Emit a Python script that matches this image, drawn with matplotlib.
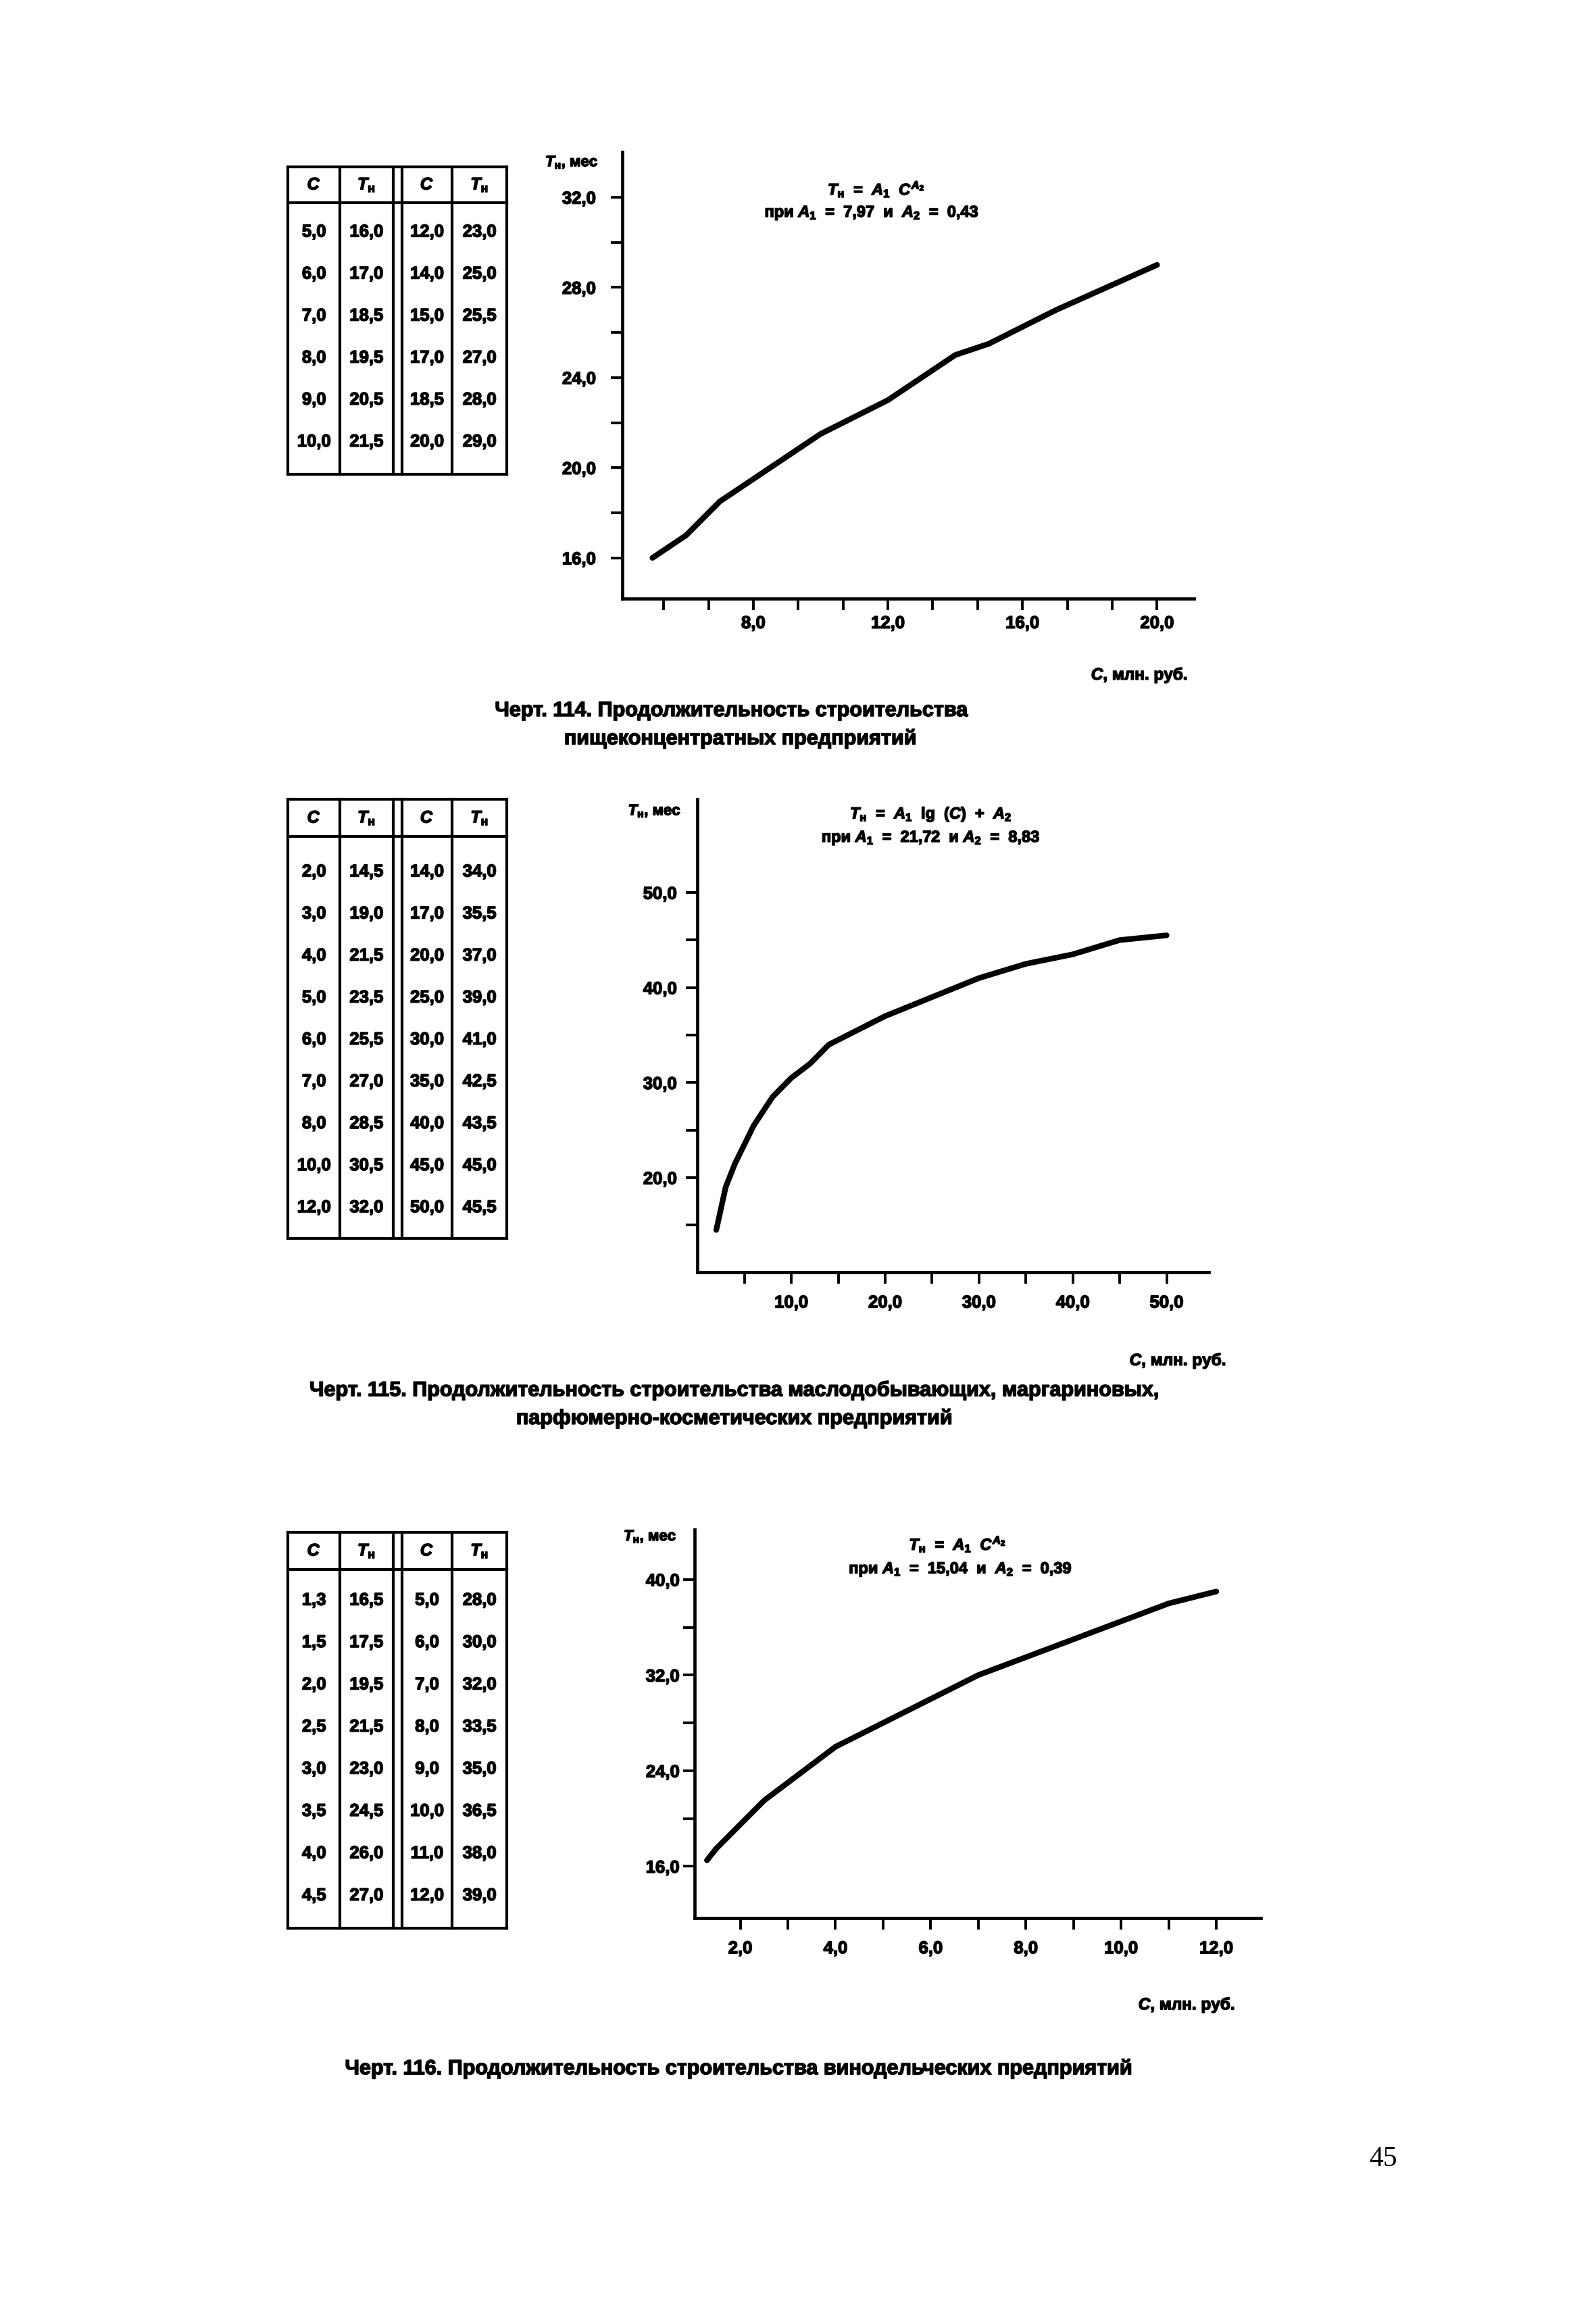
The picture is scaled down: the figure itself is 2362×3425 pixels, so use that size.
import matplotlib
matplotlib.use('Agg')
import matplotlib.pyplot as plt
import matplotlib.patheffects as pe
from matplotlib.ticker import FixedLocator, FuncFormatter
import numpy as np

plt.rcParams['font.family'] = ['Liberation Sans', 'DejaVu Sans']
plt.rcParams['font.weight'] = 'bold'
plt.rcParams['mathtext.fontset'] = 'custom'
plt.rcParams['mathtext.rm'] = 'Liberation Sans:bold'
plt.rcParams['mathtext.it'] = 'Liberation Sans:italic:bold'
plt.rcParams['mathtext.bf'] = 'Liberation Sans:bold'

# chart 114 table
c114_left = [5.0, 6.0, 7.0, 8.0, 9.0, 10.0]
t114_left = [16.0, 17.0, 18.5, 19.5, 20.5, 21.5]
c114_right = [12.0, 14.0, 15.0, 17.0, 18.5, 20.0]
t114_right = [23.0, 25.0, 25.5, 27.0, 28.0, 29.0]

# chart 115 table
c115_left = [2.0, 3.0, 4.0, 5.0, 6.0, 7.0, 8.0, 10.0, 12.0]
t115_left = [14.5, 19.0, 21.5, 23.5, 25.5, 27.0, 28.5, 30.5, 32.0]
c115_right = [14.0, 17.0, 20.0, 25.0, 30.0, 35.0, 40.0, 45.0, 50.0]
t115_right = [34.0, 35.5, 37.0, 39.0, 41.0, 42.5, 43.5, 45.0, 45.5]

# chart 116 table
c116_left = [1.3, 1.5, 2.0, 2.5, 3.0, 3.5, 4.0, 4.5]
t116_left = [16.5, 17.5, 19.5, 21.5, 23.0, 24.5, 26.0, 27.0]
c116_right = [5.0, 6.0, 7.0, 8.0, 9.0, 10.0, 11.0, 12.0]
t116_right = [28.0, 30.0, 32.0, 33.5, 35.0, 36.5, 38.0, 39.0]

ylabel = r'$T_{\mathrm{н}}$, мес'
xlabel = r'$C$, млн. руб.'
formula114 = [r'$T_{\mathrm{н}}$  =  $A_1$  $C^{A_2}$',
              r'при $A_1$  =  7,97  и  $A_2$  =  0,43']
formula115 = [r'$T_{\mathrm{н}}$  =  $A_1$  lg  $(C)$  +  $A_2$',
              r'при $A_1$  =  21,72  и $A_2$  =  8,83']
formula116 = [r'$T_{\mathrm{н}}$  =  $A_1$  $C^{A_2}$',
              r'при $A_1$  =  15,04  и  $A_2$  =  0,39']
caption114 = ['Черт. 114. Продолжительность строительства',
              'пищеконцентратных предприятий']
caption115 = ['Черт. 115. Продолжительность строительства маслодобывающих, маргариновых,',
              'парфюмерно-косметических предприятий']
caption116 = ['Черт. 116. Продолжительность строительства винодельческих предприятий']
page_no = '45'

W, H = 1080.0, 1566.0
heavy = [pe.withStroke(linewidth=1.1, foreground='k')]

fig = plt.figure(figsize=(23.62, 34.25), dpi=100)
page = fig.add_axes([0, 0, 1, 1])
page.set_xlim(0, W)
page.set_ylim(H, 0)
page.axis('off')


def fmt(v):
    return f'{v:.1f}'.replace('.', ',')


def put(x, y, s, size, **kw):
    return page.text(x, y, s, ha='center', va='center', fontsize=size,
                     path_effects=heavy, **kw)


def draw_table(top, hdr, bottom, row0, step, lc, lt, rc, rt):
    xs = [195, 230, 266, 272, 306, 343]
    lw = 3.0
    for y in (top, hdr, bottom):
        page.plot([xs[0], xs[-1]], [y, y], color='k', lw=lw, solid_capstyle='projecting')
    for x in xs:
        page.plot([x, x], [top, bottom], color='k', lw=lw, solid_capstyle='projecting')
    cx = [212.5, 248, 289, 324.5]
    hy = (top + hdr) / 2
    for x, h in zip(cx, [r'$C$', r'$T_{\mathrm{н}}$', r'$C$', r'$T_{\mathrm{н}}$']):
        put(x, hy, h, 18)
    for i in range(len(lc)):
        y = row0 + i * step
        put(cx[0], y, fmt(lc[i]), 18.5)
        put(cx[1], y, fmt(lt[i]), 18.5)
    for i in range(len(rc)):
        y = row0 + i * step
        put(cx[2], y, fmt(rc[i]), 18.5)
        put(cx[3], y, fmt(rt[i]), 18.5)


def make_chart(box, xlim, ylim, xmaj, xmin, ymaj, ymin, xs, ys, xpad, ypad):
    l, r, t, b = box
    ax = fig.add_axes([l / W, 1 - b / H, (r - l) / W, (b - t) / H])
    ax.patch.set_visible(False)
    ax.set_xlim(*xlim)
    ax.set_ylim(*ylim)
    for s in ('top', 'right'):
        ax.spines[s].set_visible(False)
    for s in ('left', 'bottom'):
        ax.spines[s].set_linewidth(3.4)
    ax.xaxis.set_major_locator(FixedLocator(xmaj))
    ax.xaxis.set_minor_locator(FixedLocator(xmin))
    ax.yaxis.set_major_locator(FixedLocator(ymaj))
    ax.yaxis.set_minor_locator(FixedLocator(ymin))
    f = FuncFormatter(lambda v, p: fmt(v))
    ax.xaxis.set_major_formatter(f)
    ax.yaxis.set_major_formatter(f)
    ax.tick_params(which='both', direction='out', length=12, width=2.8, labelsize=18.5)
    ax.tick_params(axis='x', which='major', pad=xpad)
    ax.tick_params(axis='y', which='major', pad=ypad)
    for lbl in ax.get_xticklabels() + ax.get_yticklabels():
        lbl.set_path_effects(heavy)
    ax.plot(xs, ys, color='k', lw=6, solid_capstyle='round', solid_joinstyle='round')
    return ax


# chart 114
draw_table(113, 137, 321, 157, 28.4, c114_left, t114_left, c114_right, t114_right)
make_chart((421, 808, 103, 405), (4.1, 21.1), (14.2, 34.0),
           [8, 12, 16, 20], np.arange(4 + 4 / 3, 20.5, 4 / 3),
           [16, 20, 24, 28, 32], [18, 22, 26, 30],
           c114_left + c114_right, t114_left + t114_right, 6, 16)
put(387, 110, ylabel, 16)
put(593, 128, formula114[0], 17)
put(590, 144, formula114[1], 17)
put(771, 457, xlabel, 17.5)
put(495, 481, caption114[0], 22)
put(501, 500, caption114[1], 22)

# chart 115
draw_table(541, 566, 838, 590, 28.4, c115_left, t115_left, c115_right, t115_right)
make_chart((472, 818, 541, 861), (0.0, 54.5), (10.05, 59.8),
           [10, 20, 30, 40, 50], [5, 15, 25, 35, 45],
           [20, 30, 40, 50], [15, 25, 35, 45],
           c115_left + c115_right, t115_left + t115_right, 12, 10)
put(443, 549, ylabel, 16)
put(630, 551, formula115[0], 17)
put(630, 567, formula115[1], 17)
put(797, 921, xlabel, 17.5)
put(497, 941, caption115[0], 22)
put(497, 960, caption115[1], 22)

# chart 116
draw_table(1037, 1062, 1305, 1083, 28.55, c116_left, t116_left, c116_right, t116_right)
make_chart((470, 853, 1035, 1298), (1.04, 12.93), (11.67, 44.2),
           [2, 4, 6, 8, 10, 12], [3, 5, 7, 9, 11],
           [16, 24, 32, 40], [20, 28, 36],
           c116_left + c116_right, t116_left + t116_right, 12, 4)
put(440, 1040, ylabel, 16)
put(648, 1045, formula116[0], 17)
put(650, 1062, formula116[1], 17)
put(803, 1357, xlabel, 17.5)
put(500, 1400, caption116[0], 22)

page.text(936, 1461, page_no, ha='center', va='center', fontsize=30,
          family=['Liberation Serif', 'DejaVu Serif'], weight='normal')

fig.savefig('out.png', dpi=100)
